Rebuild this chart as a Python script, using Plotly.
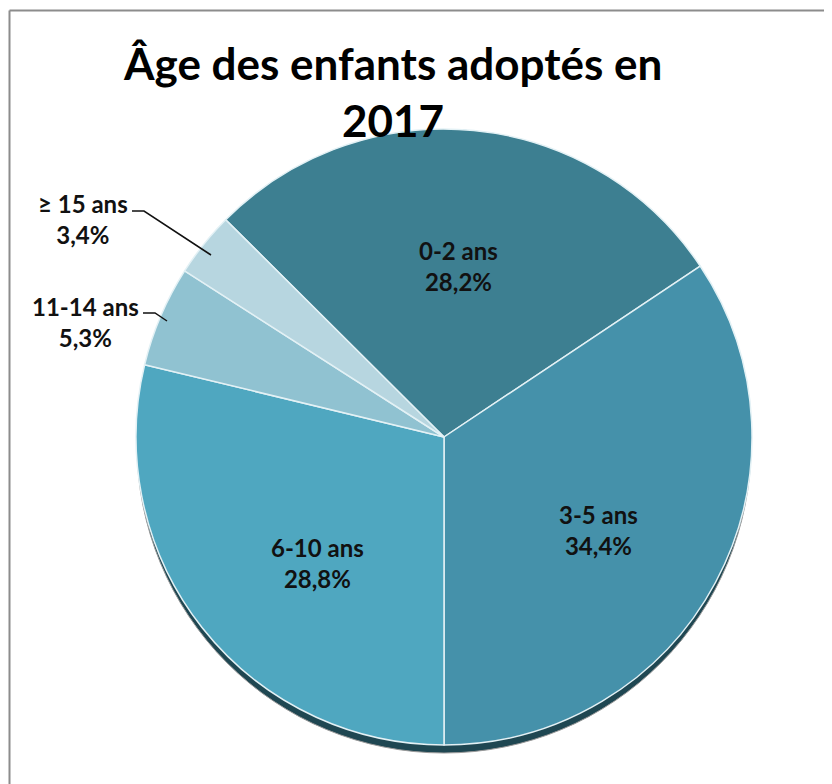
import plotly.graph_objects as go

categories = ["0-2 ans", "3-5 ans", "6-10 ans", "11-14 ans", "≥ 15 ans"]
values = [28.2, 34.4, 28.8, 5.3, 3.4]
colors = ["#3D7F91", "#4591AA", "#4FA7C0", "#90C2D1", "#B7D6E0"]
title_lines = ["Âge des enfants adoptés en", "2017"]

W, H = 832, 784
OX, OY = 8, 8  # page body margin compensation
cx, cy, R = 444 - OX, 437 - OY, 308

# label anchor positions (pixels in the reference picture), layout only
label_pos = [(458, 266), (598, 530), (317, 563), (85, 322), (83, 219)]


def px(x):
    return (x - OX) / W


def py(y):
    return 1 - (y - OY) / H


def fr(v):
    return f"{v:.1f}".replace(".", ",") + "%"


total = sum(values)
rotation = 180 - (values[0] + values[1]) / total * 360  # 3-5 ends at 6 o'clock

FONT = "Lato"

fig = go.Figure()
fig.add_trace(go.Pie(
    labels=categories,
    values=values,
    textinfo="none",
    marker=dict(colors=colors, line=dict(color="#E3F1F5", width=1.5)),
    sort=False,
    direction="clockwise",
    rotation=rotation,
    showlegend=False,
    hoverinfo="label+percent",
    domain=dict(x=[(cx - R) / W, (cx + R) / W], y=[1 - (cy + R) / H, 1 - (cy - R) / H]),
))

shapes = []
# frame (left and top visible)
shapes.append(dict(type="line", xref="paper", yref="paper", x0=px(9.5), x1=px(9.5), y0=-0.05, y1=py(10.5),
                   line=dict(color="#8C8C8C", width=2)))
shapes.append(dict(type="line", xref="paper", yref="paper", x0=px(9.5), x1=1.05, y0=py(10.5), y1=py(10.5),
                   line=dict(color="#8C8C8C", width=2)))
# 3D-like shadow beneath the pie
shapes.append(dict(type="circle", xref="paper", yref="paper", layer="below",
                   x0=(cx - R + 1) / W, x1=(cx + R - 1) / W,
                   y0=1 - (cy + R + 8) / H, y1=1 - (cy - R + 8) / H,
                   fillcolor="#1F4752", line=dict(color="#9A9A9A", width=1)))


def pth(pts):
    d = "M " + " L ".join(f"{px(x)},{py(y)}" for x, y in pts)
    return dict(type="path", xref="paper", yref="paper", path=d, line=dict(color="#111111", width=1.5))


shapes.append(pth([(132, 211), (144, 211), (211, 255)]))
shapes.append(pth([(143, 313), (155, 313), (167, 321)]))

lab_font = dict(family=FONT, size=24, color="#111111")
annotations = [
    dict(x=px(392), y=py(91), xref="paper", yref="paper", showarrow=False,
         text="<b>" + "<br>".join(title_lines) + "</b>", align="center",
         xanchor="center", yanchor="middle",
         font=dict(family=FONT, size=44, color="#000000")),
]
for c, v, (lx, ly) in zip(categories, values, label_pos):
    annotations.append(dict(x=px(lx), y=py(ly), xref="paper", yref="paper", showarrow=False,
                            xanchor="center", yanchor="middle", align="center",
                            text=f"<b>{c}<br>{fr(v)}</b>", font=lab_font))

fig.update_layout(
    width=W, height=H,
    margin=dict(l=0, r=0, t=0, b=0),
    paper_bgcolor="white",
    plot_bgcolor="white",
    shapes=shapes,
    annotations=annotations,
)
fig.write_html("out.html")
